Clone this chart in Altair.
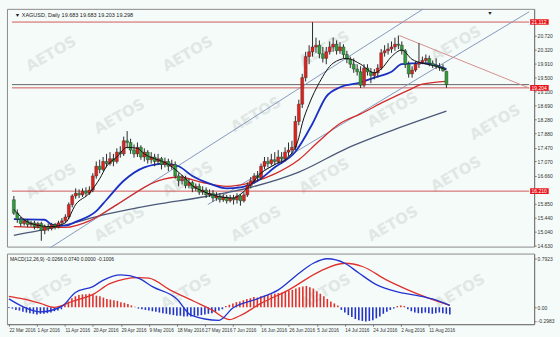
import altair as alt
import pandas as pd

# ---------------- data ----------------
date_labels = ["22 Mar 2016", "1 Apr 2016", "11 Apr 2016", "20 Apr 2016", "29 Apr 2016",
               "9 May 2016", "18 May 2016", "27 May 2016", "7 Jun 2016", "16 Jun 2016",
               "26 Jun 2016", "5 Jul 2016", "14 Jul 2016", "24 Jul 2016", "2 Aug 2016",
               "11 Aug 2016"]

opens = [15.96, 15.57, 15.40, 15.27, 15.35, 15.24, 15.29, 15.18, 15.27, 15.07,
         15.18, 15.13, 15.24, 15.16, 15.29, 15.35, 15.46, 15.82, 16.07, 16.15,
         16.10, 16.21, 16.15, 16.24, 16.65, 16.93, 16.84, 17.07, 17.01, 17.15,
         17.07, 17.34, 17.29, 17.67, 17.62, 17.40, 17.29, 17.48, 17.20, 17.34,
         17.12, 17.20, 17.07, 17.15, 16.98, 17.07, 16.93, 16.98, 16.65, 16.51,
         16.57, 16.37, 16.46, 16.29, 16.35, 16.18, 16.24, 16.10, 16.15, 16.01,
         16.07, 15.96, 16.04, 15.93, 16.01, 15.96, 16.07, 15.93, 16.10, 16.37,
         16.51, 16.65, 16.60, 16.93, 17.07, 17.01, 17.12, 17.07, 17.20, 17.15,
         17.34, 17.40, 17.48, 18.23, 18.73, 19.50, 20.11, 20.25, 20.39, 20.44,
         20.19, 20.06, 20.25, 20.39, 20.47, 20.28, 20.39, 20.17, 20.03, 19.89,
         19.75, 19.67, 19.28, 19.78, 19.67, 19.56, 19.64, 19.78, 20.22, 20.28,
         20.33, 20.39, 20.47, 20.44, 20.28, 19.89, 19.61, 19.72, 19.89, 19.94,
         20.00, 20.06, 19.92, 19.86, 19.83, 19.78, 19.683]
highs = [16.07, 15.68, 15.46, 15.40, 15.40, 15.35, 15.35, 15.32, 15.32, 15.24,
         15.27, 15.29, 15.29, 15.35, 15.43, 15.54, 15.88, 16.12, 16.29, 16.26,
         16.29, 16.32, 16.35, 16.73, 17.07, 17.12, 17.20, 17.29, 17.34, 17.29,
         17.45, 17.51, 17.79, 17.95, 17.73, 17.56, 17.62, 17.54, 17.45, 17.40,
         17.34, 17.29, 17.29, 17.20, 17.18, 17.15, 17.12, 17.07, 16.73, 16.68,
         16.65, 16.57, 16.51, 16.43, 16.43, 16.35, 16.32, 16.26, 16.24, 16.18,
         16.15, 16.12, 16.10, 16.10, 16.10, 16.15, 16.12, 16.18, 16.46, 16.62,
         16.73, 16.79, 17.01, 17.20, 17.20, 17.29, 17.34, 17.40, 17.34, 17.48,
         17.62, 17.67, 18.39, 18.86, 19.61, 20.25, 20.44, 21.11, 20.66, 20.58,
         20.39, 20.39, 20.55, 20.66, 20.58, 20.53, 20.47, 20.28, 20.11, 20.06,
         19.89, 19.83, 19.89, 19.89, 19.78, 19.75, 19.89, 20.33, 20.44, 20.50,
         20.55, 20.66, 20.72, 20.55, 20.33, 19.97, 19.83, 19.97, 20.50, 20.11,
         20.17, 20.14, 20.00, 20.06, 19.92, 19.89, 19.683]
lows = [15.52, 15.29, 15.18, 15.21, 15.16, 15.18, 15.10, 15.13, 14.77, 14.96,
        15.05, 15.07, 15.10, 15.13, 15.24, 15.29, 15.40, 15.74, 15.99, 16.01,
        16.04, 16.07, 16.10, 16.18, 16.57, 16.73, 16.79, 16.90, 16.95, 16.93,
        17.01, 17.18, 17.23, 17.45, 17.29, 17.18, 17.20, 17.12, 17.07, 17.01,
        17.01, 16.93, 16.98, 16.84, 16.90, 16.79, 16.84, 16.57, 16.35, 16.40,
        16.29, 16.29, 16.18, 16.21, 16.10, 16.10, 16.01, 16.04, 15.90, 15.93,
        15.88, 15.90, 15.85, 15.88, 15.82, 15.85, 15.79, 15.88, 16.04, 16.29,
        16.43, 16.48, 16.54, 16.84, 16.90, 16.95, 16.98, 17.01, 17.01, 17.07,
        17.23, 17.29, 17.40, 18.12, 18.62, 19.39, 19.89, 20.11, 20.22, 20.06,
        19.94, 19.89, 20.17, 20.25, 20.17, 20.19, 20.06, 19.92, 19.78, 19.64,
        19.56, 19.20, 19.22, 19.56, 19.34, 19.45, 19.50, 19.72, 20.11, 20.17,
        20.22, 20.28, 20.33, 20.17, 19.78, 19.50, 19.50, 19.67, 19.78, 19.89,
        19.89, 19.83, 19.78, 19.75, 19.70, 19.67, 19.203]
closes = [15.57, 15.40, 15.27, 15.35, 15.24, 15.29, 15.18, 15.27, 15.07, 15.18,
          15.13, 15.24, 15.16, 15.29, 15.35, 15.46, 15.82, 16.07, 16.15, 16.10,
          16.21, 16.15, 16.24, 16.65, 16.93, 16.84, 17.07, 17.01, 17.15, 17.07,
          17.34, 17.29, 17.67, 17.62, 17.40, 17.29, 17.48, 17.20, 17.34, 17.12,
          17.20, 17.07, 17.15, 16.98, 17.07, 16.93, 16.98, 16.65, 16.51, 16.57,
          16.37, 16.46, 16.29, 16.35, 16.18, 16.24, 16.10, 16.15, 16.01, 16.07,
          15.96, 16.04, 15.93, 16.01, 15.96, 16.07, 15.93, 16.10, 16.37, 16.51,
          16.65, 16.60, 16.93, 17.07, 17.01, 17.12, 17.07, 17.20, 17.15, 17.34,
          17.40, 17.48, 18.23, 18.73, 19.50, 20.11, 20.25, 20.39, 20.44, 20.19,
          20.06, 20.25, 20.39, 20.47, 20.28, 20.39, 20.17, 20.03, 19.89, 19.75,
          19.67, 19.28, 19.78, 19.67, 19.56, 19.64, 19.78, 20.22, 20.28, 20.33,
          20.39, 20.47, 20.44, 20.28, 19.89, 19.61, 19.72, 19.89, 19.94, 20.00,
          20.06, 19.92, 19.86, 19.83, 19.78, 19.70, 19.298]

black_idx = [0, 5, 11, 15, 18, 22, 25, 27, 30, 33, 36, 38, 41, 44, 47, 50, 52, 55, 59, 64,
             66, 69, 72, 76, 80, 83, 84, 86, 89, 93, 97, 101, 105, 107, 110, 113, 116, 119, 123, 126]
black_ma = [15.68, 15.27, 15.18, 15.29, 15.82, 16.15, 16.57, 16.93, 17.20, 17.48, 17.45, 17.29,
            17.15, 17.04, 16.84, 16.57, 16.37, 16.21, 16.07, 16.01, 16.12, 16.40, 16.73, 16.98,
            17.20, 17.76, 18.17, 18.73, 19.36, 19.92, 20.06, 19.89, 19.64, 19.75, 20.11, 20.30,
            20.03, 19.92, 19.83, 19.72]
blue_idx = [0, 9, 11, 15, 18, 24, 27, 32, 38, 44, 48, 52, 57, 62, 66, 71, 76, 82, 87, 91,
            95, 101, 105, 110, 113, 119, 123, 126]
blue_ma = [15.40, 15.38, 15.24, 15.21, 15.32, 15.63, 15.96, 16.51, 16.90, 17.01, 16.93, 16.65,
           16.43, 16.29, 16.32, 16.51, 16.90, 17.35, 18.17, 18.95, 19.22, 19.36, 19.50, 19.67,
           19.89, 19.92, 19.86, 19.75]
red_idx = [0, 8, 15, 22, 30, 42, 48, 55, 62, 69, 76, 83, 89, 95, 101, 108, 115, 119, 126]
red_ma = [15.18, 15.16, 15.16, 15.35, 15.82, 16.51, 16.62, 16.46, 16.35, 16.46, 16.71, 17.12,
          17.67, 18.17, 18.45, 18.81, 19.14, 19.31, 19.39]
gray_idx = [0, 13, 27, 41, 55, 69, 83, 97, 111, 126]
gray_ma = [14.93, 15.18, 15.54, 15.82, 16.04, 16.32, 16.76, 17.45, 18.00, 18.53]

# trend lines: (bar index, price) end points
channel_a_idx = [10.6, 119.2]
channel_a_px = [14.57, 21.49]
channel_b_idx = [56.5, 150.1]
channel_b_px = [15.82, 21.41]
falling_idx = [112.3, 150.1]
falling_px = [20.72, 19.20]

level_prices = [21.112, 19.204, 16.21]
level_labels = ["21.112", "19.204", "16.210"]
bid_price = 19.298

price_ticks = [14.63, 15.04, 15.44, 15.85, 16.66, 17.07, 17.47, 17.88, 18.28,
               18.69, 19.10, 19.50, 19.91, 20.32, 20.72]

macd_idx = [0, 4, 9, 15, 19, 24, 27, 32, 37, 41, 48, 52, 60, 64, 71, 77, 83, 87, 91, 96,
            100, 105, 111, 116, 121, 126]
macd_main = [0.13, 0.01, -0.07, 0.01, 0.23, 0.32, 0.42, 0.50, 0.45, 0.32, 0.13, -0.12, -0.20,
             -0.01, 0.13, 0.27, 0.53, 0.68, 0.75, 0.68, 0.53, 0.35, 0.24, 0.19, 0.13, 0.03]
signal_idx = [0, 4, 9, 13, 18, 24, 29, 37, 40, 46, 53, 58, 63, 66, 72, 80, 89, 96, 101, 108,
              114, 119, 126]
macd_signal = [0.17, 0.13, 0.06, 0.00, 0.09, 0.20, 0.37, 0.46, 0.45, 0.27, 0.09, -0.04, -0.19,
               -0.13, 0.06, 0.27, 0.56, 0.68, 0.63, 0.42, 0.27, 0.16, 0.03]
macd_hist = [-0.01, -0.02, -0.04, -0.05, -0.07, -0.08, -0.09, -0.10, -0.11, -0.10,
             -0.10, -0.09, -0.08, -0.06, -0.05, -0.03, 0.04, 0.09, 0.14, 0.17,
             0.19, 0.20, 0.20, 0.21, 0.20, 0.18, 0.17, 0.15, 0.13, 0.12,
             0.11, 0.10, 0.08, 0.07, 0.05, 0.03, 0.01, -0.02, -0.03, -0.04,
             -0.05, -0.06, -0.07, -0.08, -0.09, -0.10, -0.11, -0.12, -0.13, -0.13,
             -0.14, -0.14, -0.14, -0.13, -0.13, -0.12, -0.11, -0.10, -0.09, -0.07,
             -0.05, -0.03, 0.02, 0.04, 0.06, 0.08, 0.09, 0.11, 0.13, 0.14,
             0.16, 0.15, 0.17, 0.18, 0.19, 0.20, 0.21, 0.22, 0.23, 0.25,
             0.26, 0.27, 0.29, 0.31, 0.32, 0.33, 0.31, 0.29, 0.25, 0.21,
             0.17, 0.13, 0.09, 0.06, 0.03, -0.04, -0.08, -0.12, -0.15, -0.18,
             -0.20, -0.21, -0.22, -0.21, -0.20, -0.17, -0.14, -0.10, -0.07, -0.04,
             -0.02, 0.02, 0.03, 0.02, -0.03, -0.06, -0.08, -0.09, -0.09, -0.08,
             -0.09, -0.10, -0.09, -0.08, -0.09, -0.10, -0.11]

header_text = "\u25bc XAGUSD, Daily  19.683 19.683 19.203 19.298"
macd_text = "MACD(12,26,9) -0.0266 0.0740 0.0000 -0.1006"

# ---------------- layout / style ----------------
W = 530
H1 = 239
H2 = 71
BG = "#f5fbf9"
FONT = "Liberation Sans"
XD = [-0.56, 150.1]
YD = [14.602, 21.4946]
MD = [-0.26, 0.83]

xs = alt.Scale(domain=XD, nice=False, zero=False)
ys = alt.Scale(domain=YD, nice=False, zero=False)
ms = alt.Scale(domain=MD, nice=False, zero=False)


# pixel -> data helpers, used only to place decorations (watermarks, header, boxes)
def gx(px):
    return XD[0] + px * (XD[1] - XD[0]) / W


def gy(py):
    return YD[1] - py * (YD[1] - YD[0]) / H1


def gm(py):
    return MD[1] - py * (MD[1] - MD[0]) / H2


price_axis = alt.Axis(orient="right", values=price_ticks, format=".3f", labelFontSize=5,
                      labelPadding=1, tickSize=2, labelColor="#333", domainColor="#777",
                      tickColor="#777", grid=False, title=None, labelFont=FONT)

XT = alt.X("i:Q", scale=xs, axis=None)


def YT(field):
    return alt.Y(field, scale=ys, axis=price_axis)


n = len(closes)
candles = pd.DataFrame({"i": list(range(n)), "o": opens, "h": highs, "l": lows, "c": closes})
candles["up"] = [1 if c >= o else 0 for o, c in zip(opens, closes)]

# watermark centres (pixels inside each panel), kept well inside the views
wm_top_px = [(40, 45), (180, 45), (320, 40), (455, 35),
             (110, 108), (250, 106), (390, 101), (495, 114),
             (40, 173), (180, 171), (320, 168), (455, 166),
             (110, 216), (250, 216), (390, 216)]
wm_bot_px = [(40, 38), (180, 38), (320, 38), (455, 38)]

wm_top_df = pd.DataFrame({"i": [gx(a) for a, b in wm_top_px], "p": [gy(b) for a, b in wm_top_px],
                          "t": ["AETOS"] * len(wm_top_px)})
wm_bot_df = pd.DataFrame({"i": [gx(a) for a, b in wm_bot_px], "v": [gm(b) for a, b in wm_bot_px],
                          "t": ["AETOS"] * len(wm_bot_px)})

wm_top = alt.Chart(wm_top_df).mark_text(
    fontSize=15, fontWeight="bold", angle=330, color="#e0e7e4", font="DejaVu Sans", clip=True
).encode(x=XT, y=YT("p:Q"), text="t:N")

wick = alt.Chart(candles).mark_rule(color="#2a2a2a", strokeWidth=1).encode(
    x=XT, y=YT("l:Q"), y2="h:Q")
body_up = alt.Chart(candles).transform_filter("datum.up == 1").mark_bar(
    size=3, color="#e3211c", stroke="#2a2a2a", strokeWidth=0.4).encode(
    x=XT, y=YT("o:Q"), y2="c:Q")
body_dn = alt.Chart(candles).transform_filter("datum.up == 0").mark_bar(
    size=3, color="#2f9e3a", stroke="#2a2a2a", strokeWidth=0.4).encode(
    x=XT, y=YT("o:Q"), y2="c:Q")


def ma_line(idx, vals, color, width, interp="monotone"):
    return alt.Chart(pd.DataFrame({"i": idx, "p": vals})).mark_line(
        color=color, strokeWidth=width, interpolate=interp).encode(x=XT, y=YT("p:Q"))


levels_df = pd.DataFrame({"p": level_prices, "t": level_labels})
hl_df = pd.DataFrame({"i": [XD[0], XD[1]] * 3,
                      "p": [level_prices[0]] * 2 + [level_prices[1]] * 2 + [level_prices[2]] * 2,
                      "g": ["a", "a", "b", "b", "c", "c"]})
levels = alt.Chart(hl_df).mark_line(color="#d05a5a", strokeWidth=1).encode(
    x=XT, y=YT("p:Q"), detail="g:N")
bid = ma_line([XD[0], XD[1]], [bid_price, bid_price], "#666666", 1, "linear")

box_df = levels_df.copy()
box_df["x1"] = gx(W + 1)
box_df["x2"] = gx(W + 20)
box_df["y1"] = box_df["p"] + 2.8 * (YD[1] - YD[0]) / H1
box_df["y2"] = box_df["p"] - 2.8 * (YD[1] - YD[0]) / H1
box_df["xt"] = gx(W + 2.5)
boxes = alt.Chart(box_df).mark_rect(color="#e8141b").encode(
    x=alt.X("x1:Q", scale=xs, axis=None), x2="x2:Q", y=YT("y1:Q"), y2="y2:Q")
box_text = alt.Chart(box_df).mark_text(align="left", baseline="middle", fontSize=5,
                                       color="white", font=FONT).encode(
    x=alt.X("xt:Q", scale=xs, axis=None), y=YT("p:Q"), text="t:N")

hdr_df = pd.DataFrame({"i": [gx(3), gx(487)], "p": [gy(6), gy(4)],
                       "t": [header_text, "\u25bc"]})
header = alt.Chart(hdr_df).mark_text(align="left", baseline="middle", fontSize=5.5,
                                     color="#222", font=FONT).encode(
    x=XT, y=YT("p:Q"), text="t:N")

top = alt.layer(
    wm_top,
    levels, bid,
    ma_line(channel_a_idx, channel_a_px, "#8797bd", 1, "linear"),
    ma_line(channel_b_idx, channel_b_px, "#8797bd", 1, "linear"),
    ma_line(falling_idx, falling_px, "#d58f8f", 1, "linear"),
    ma_line(gray_idx, gray_ma, "#4c5878", 1.3),
    ma_line(red_idx, red_ma, "#d42a2a", 1.3),
    ma_line(blue_idx, blue_ma, "#1a2fc4", 1.8),
    wick, body_up, body_dn,
    ma_line(black_idx, black_ma, "#111111", 1.0),
    boxes, box_text, header,
).properties(width=W, height=H1)

# ---------------- MACD panel ----------------
date_expr = "[" + ",".join("'" + d + "'" for d in date_labels) + "][round(datum.value/8)]"
date_axis = alt.Axis(orient="bottom", values=list(range(0, 8 * len(date_labels), 8)),
                     labelExpr=date_expr, labelAlign="left", labelFontSize=4.7, labelPadding=1,
                     tickSize=2, labelColor="#333", domainColor="#777", tickColor="#777",
                     grid=False, title=None, labelOverlap=False, labelFont=FONT)
macd_axis = alt.Axis(orient="right", values=[0.76, 0, -0.21],
                     labelExpr="datum.value > 0.5 ? '0.7923' : (datum.value < -0.1 ? '-0.2983' : '0.00')",
                     labelFontSize=5, labelPadding=1, tickSize=2, labelColor="#333",
                     domainColor="#777", tickColor="#777", grid=False, title=None,
                     labelFont=FONT)
XB = alt.X("i:Q", scale=xs, axis=date_axis)


def YB(field):
    return alt.Y(field, scale=ms, axis=macd_axis)


hist_df = pd.DataFrame({"i": list(range(n)), "v": macd_hist, "z": [0.0] * n})

wm_bot = alt.Chart(wm_bot_df).mark_text(
    fontSize=15, fontWeight="bold", angle=330, color="#e0e7e4", font="DejaVu Sans", clip=True
).encode(x=XB, y=YB("v:Q"), text="t:N")

hist_pos = alt.Chart(hist_df).transform_filter("datum.v >= 0").mark_rule(
    strokeWidth=1.6, color="#e0302c").encode(x=XB, y=YB("v:Q"), y2="z:Q")
hist_neg = alt.Chart(hist_df).transform_filter("datum.v < 0").mark_rule(
    strokeWidth=1.6, color="#2233c6").encode(x=XB, y=YB("v:Q"), y2="z:Q")
main_line = alt.Chart(pd.DataFrame({"i": macd_idx, "v": macd_main})).mark_line(
    color="#2233d0", strokeWidth=1.3, interpolate="monotone").encode(x=XB, y=YB("v:Q"))
sig_line = alt.Chart(pd.DataFrame({"i": signal_idx, "v": macd_signal})).mark_line(
    color="#e0302c", strokeWidth=1.3, interpolate="monotone").encode(x=XB, y=YB("v:Q"))
macd_header = alt.Chart(pd.DataFrame({"i": [gx(3)], "v": [gm(5)], "t": [macd_text]})).mark_text(
    align="left", baseline="middle", fontSize=5, color="#222", font=FONT).encode(
    x=XB, y=YB("v:Q"), text="t:N")

macd = alt.layer(
    wm_bot, hist_pos, hist_neg, sig_line, main_line, macd_header,
).properties(width=W, height=H2)

chart = alt.vconcat(top, macd, spacing=2).configure(
    background=BG,
).configure_view(stroke="#8a8a8a", fill=BG)

chart.save("out.html", embed_options={"renderer": "svg", "actions": False})
